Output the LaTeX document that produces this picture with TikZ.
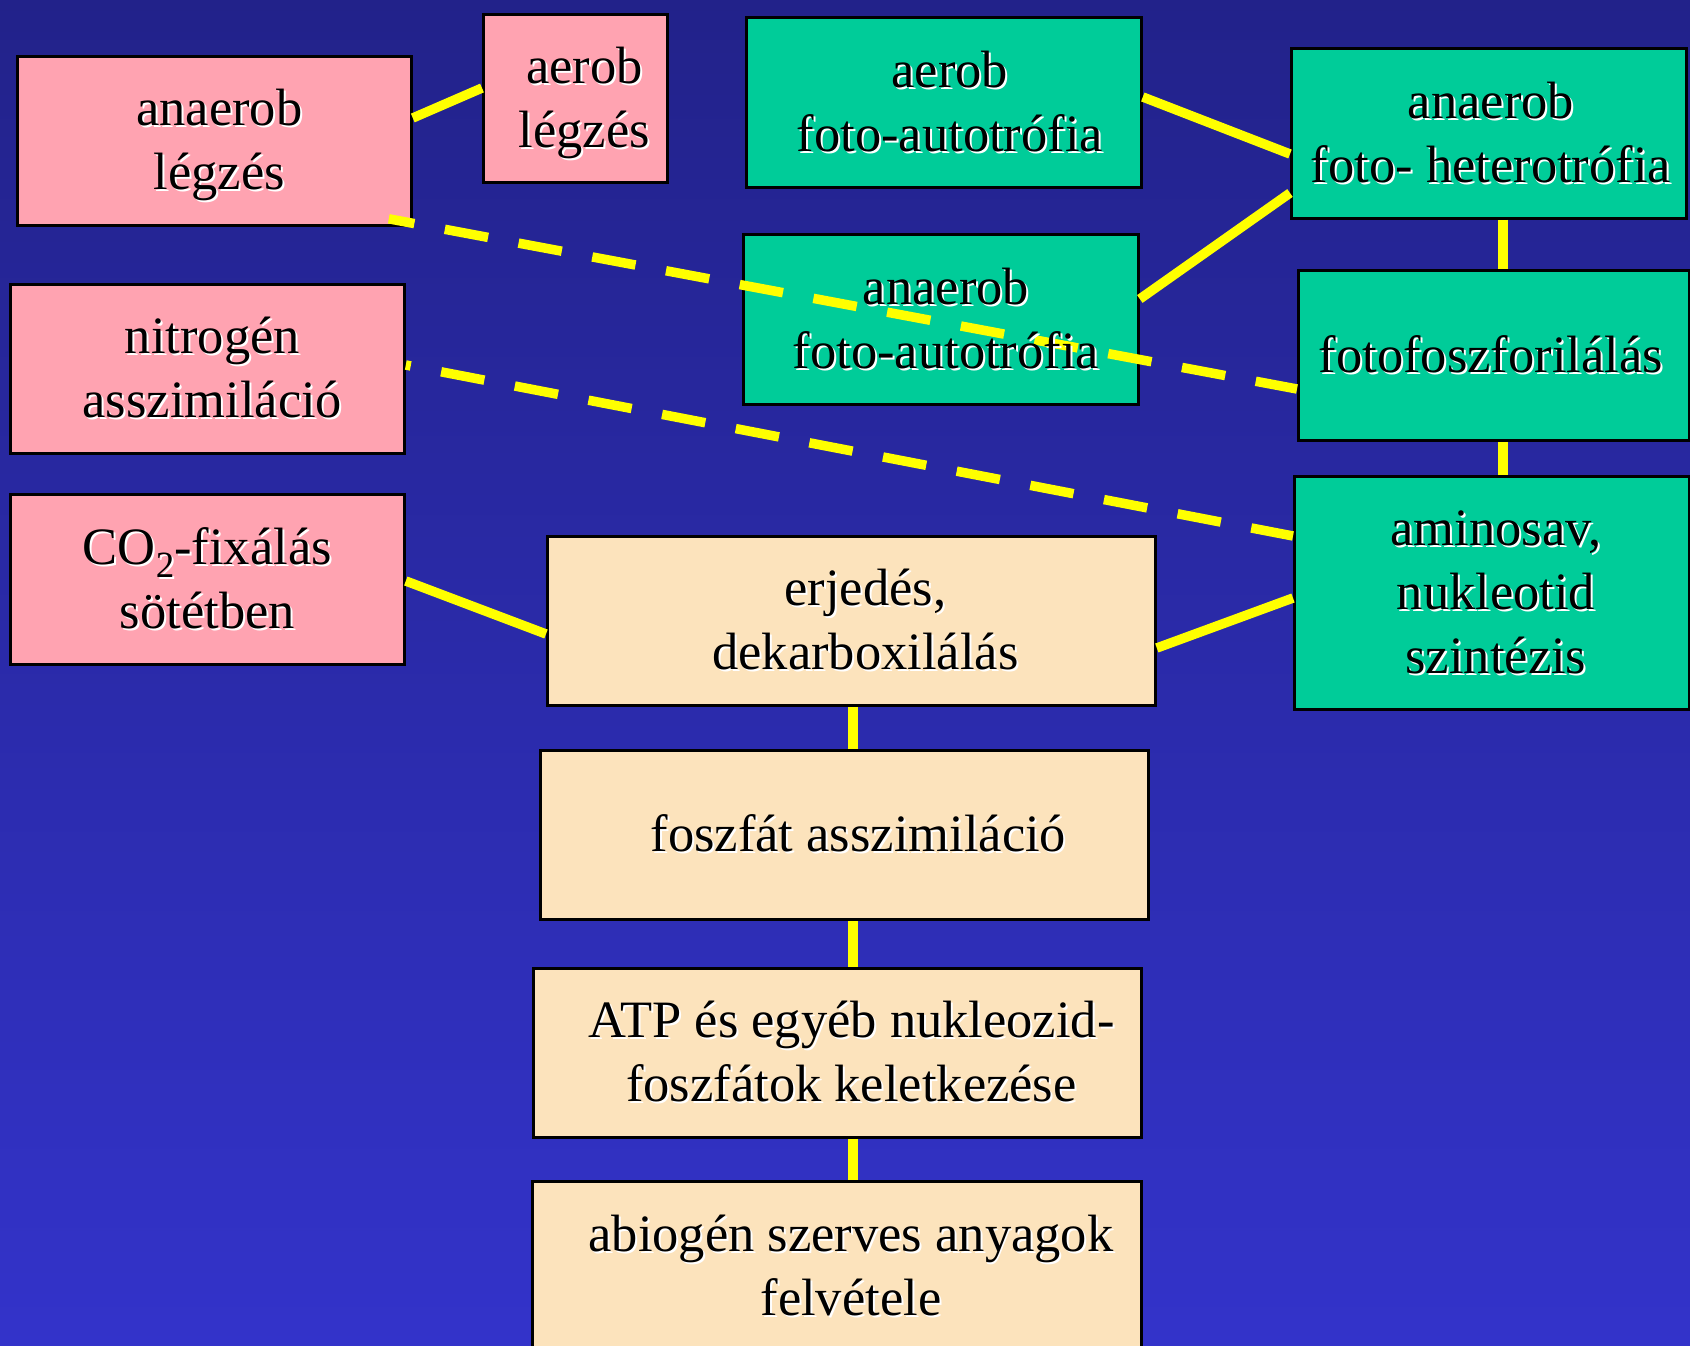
\documentclass[tikz,border=0pt]{standalone}
\usepackage{fontspec}
\setmainfont{Liberation Serif}
\usetikzlibrary{calc}

\definecolor{bgtop}{RGB}{34,34,138}
\definecolor{bgbot}{RGB}{51,51,202}
\definecolor{pinkfill}{RGB}{255,163,177}
\definecolor{greenfill}{RGB}{0,204,153}
\definecolor{tanfill}{RGB}{252,227,188}
\definecolor{linkyellow}{RGB}{255,255,0}

% black text with a thin white drop shadow, lines centred
\newcommand\shadowtext[1]{%
  \rlap{\kern2pt\raisebox{-2pt}{\color{white}\begin{tabular}{@{}c@{}}#1\end{tabular}}}%
  \begin{tabular}{@{}c@{}}#1\end{tabular}}
% large, low subscript two
\newcommand\subtwo{\raisebox{-0.26em}{\fontsize{37}{37}\selectfont 2}}

\begin{document}
\begin{tikzpicture}[x=1pt,y=-1pt,
  box/.style={draw=black, line width=2.8pt, inner sep=0pt, anchor=north west},
  pinkbox/.style={box, fill=pinkfill},
  greenbox/.style={box, fill=greenfill},
  tanbox/.style={box, fill=tanfill},
  lbl/.style={inner sep=0pt, text=black, yshift=-5pt, font=\fontsize{52.5}{64}\selectfont},
  link/.style={draw=linkyellow, line width=9.5pt},
  dashlink/.style={link, dash pattern=on 44pt off 31pt}]

\useasboundingbox (0,0) rectangle (1690,1346);
\clip (0,0) rectangle (1690,1346);
\shade[top color=bgtop, bottom color=bgbot] (0,0) rectangle (1690,1346);

% boxes
\node[pinkbox, minimum width=394, minimum height=169] (al) at (16,55) {};
\node[pinkbox, minimum width=184, minimum height=168] (aL) at (482,13) {};
\node[pinkbox, minimum width=394, minimum height=169] (nit) at (9,283) {};
\node[pinkbox, minimum width=394, minimum height=170] (co2) at (9,493) {};

\node[greenbox, minimum width=395, minimum height=170] (afa) at (745,16) {};
\node[greenbox, minimum width=395, minimum height=170] (het) at (1290,47) {};
\node[greenbox, minimum width=395, minimum height=170] (anfa) at (742,233) {};
\node[greenbox, minimum width=391, minimum height=170] (ff) at (1297,269) {};
\node[greenbox, minimum width=395, minimum height=233] (amin) at (1293,475) {};

\node[tanbox, minimum width=608, minimum height=169] (erj) at (546,535) {};
\node[tanbox, minimum width=608, minimum height=169] (fos) at (539,749) {};
\node[tanbox, minimum width=608, minimum height=169] (atp) at (532,967) {};
\node[tanbox, minimum width=609, minimum height=170] (abio) at (531,1180) {};

% connectors
\coordinate (spine) at (853,0);
\coordinate (rspine) at (1503,0);

\draw[link] (al.east |- 0,118) -- (aL.west |- 0,88);
\draw[link] (afa.east |- 0,97) -- (het.west |- 0,154);
\draw[link] (anfa.east |- 0,299) -- (het.west |- 0,193);
\draw[link] (het.south -| rspine) -- (ff.north -| rspine);
\draw[link] (ff.south -| rspine) -- (amin.north -| rspine);
\draw[link] (co2.east |- 0,581) -- (erj.west |- 0,634);
\draw[link] (erj.east |- 0,648) -- (amin.west |- 0,598);
\draw[link] (erj.south -| spine) -- (fos.north -| spine);
\draw[link] (fos.south -| spine) -- (atp.north -| spine);
\draw[link] (atp.south -| spine) -- (abio.north -| spine);

\draw[dashlink, dash phase=18pt] ($(al.south east)+(-24,-8)$) -- (ff.west |- 0,389);
\draw[dashlink, dash phase=39pt] (nit.east |- 0,365) -- (amin.west |- 0,536);

% labels
\node[lbl, xshift=5pt] (al-t) at (al.center) {\shadowtext{anaerob\\légzés}};
\node[lbl, xshift=9pt] (aL-t) at (aL.center) {\shadowtext{aerob\\légzés}};
\node[lbl, xshift=5pt] (nit-t) at (nit.center) {\shadowtext{nitrogén\\asszimiláció}};
\node[lbl] (co2-t) at (co2.center) {\shadowtext{CO\subtwo-fixálás\\sötétben}};
\node[lbl, xshift=6pt] (afa-t) at (afa.center) {\shadowtext{aerob\\foto-autotrófia}};
\node[lbl, xshift=2pt] (het-t) at (het.center) {\shadowtext{anaerob\\foto- heterotrófia}};
\node[lbl, xshift=5pt] (anfa-t) at (anfa.center) {\shadowtext{anaerob\\foto-autotrófia}};
\node[lbl, xshift=-3pt] (ff-t) at (ff.center) {\shadowtext{fotofoszforilálás}};
\node[lbl, xshift=4pt] (amin-t) at (amin.center) {\shadowtext{aminosav,\\nukleotid\\szintézis}};
\node[lbl, xshift=14pt] (erj-t) at (erj.center) {\shadowtext{erjedés,\\dekarboxilálás}};
\node[lbl, xshift=14pt] (fos-t) at (fos.center) {\shadowtext{foszfát asszimiláció}};
\node[lbl, xshift=14pt] (atp-t) at (atp.center) {\shadowtext{ATP és egyéb nukleozid-\\foszfátok keletkezése}};
\node[lbl, xshift=14pt] (abio-t) at (abio.center) {\shadowtext{abiogén szerves anyagok\\felvétele}};
\end{tikzpicture}
\end{document}
